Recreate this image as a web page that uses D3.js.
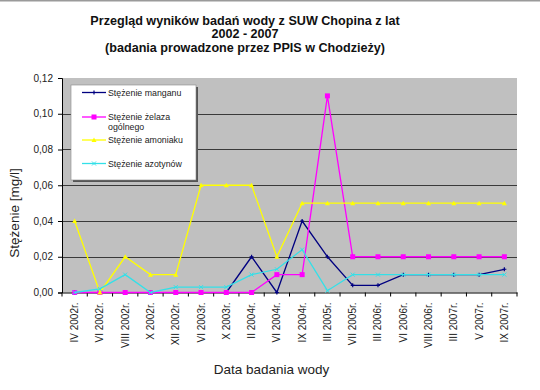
<!DOCTYPE html>
<html><head><meta charset="utf-8">
<script src="https://cdn.jsdelivr.net/npm/d3@7"></script>
<style>
html,body{margin:0;padding:0;background:#fff;}
svg{display:block;font-family:"Liberation Sans",Arial,sans-serif;}
</style></head>
<body>
<div id="chart"></div>
<script>
const categories = ["IV 2002r.","VI 2002r.","VIII 2002r.","X 2002r.","XII 2002r.","VI 2003r.","X 2003r.","II 2004r.","VI 2004r.","IX 2004r.","III 2005r.","VII 2005r.","III 2006r.","VI 2006r.","VIII 2006r.","III 2007r.","V 2007r.","IX 2007r."];
const manganu   = [null,null,null,null,null,null,0,0.02,0,0.04,0.02,0.004,0.004,0.01,0.01,0.01,0.01,0.013];
const zelaza    = [0,0,0,0,0,0,0,0,0.01,0.01,0.11,0.02,0.02,0.02,0.02,0.02,0.02,0.02];
const amoniaku  = [0.04,0,0.02,0.01,0.01,0.06,0.06,0.06,0.02,0.05,0.05,0.05,0.05,0.05,0.05,0.05,0.05,0.05];
const azotynow  = [0,0.002,0.01,0,0.003,0.003,0.003,0.01,0.013,0.024,0.001,0.01,0.01,0.01,0.01,0.01,0.01,0.01];
const yTicks = [0,0.02,0.04,0.06,0.08,0.10,0.12];
const seriesNames = ["Stężenie manganu","Stężenie żelaza ogólnego","Stężenie amoniaku","Stężenie azotynów"];
const titleLines = ["Przegląd wyników badań wody z SUW Chopina z lat","2002 - 2007","(badania prowadzone przez PPIS w Chodzieży)"];

const W=540,H=390;
const m={left:62,right:23,top:78,bottom:97.5};
const svg=d3.select("#chart").append("svg").attr("width",W).attr("height",H);
svg.append("line").attr("x1",0).attr("x2",W).attr("y1",0.5).attr("y2",0.5).attr("stroke","#9a9a9a").attr("stroke-width",2);

const x=d3.scaleBand().domain(categories).range([m.left,W-m.right]);
const y=d3.scaleLinear().domain([0,0.12]).range([H-m.bottom,m.top]);
const px=c=>x(c)+x.bandwidth()/2;

// plot area
svg.append("rect").attr("x",m.left).attr("y",m.top).attr("width",W-m.right-m.left).attr("height",H-m.bottom-m.top).attr("fill","#c0c0c0");
// gridlines
svg.append("g").selectAll("line").data(yTicks.filter(t=>t>0&&t<0.12)).join("line")
 .attr("x1",m.left).attr("x2",W-m.right).attr("y1",d=>Math.round(y(d))+0.5).attr("y2",d=>Math.round(y(d))+0.5)
 .attr("stroke","#3a3a3a").attr("stroke-width",1);

// y axis
const yAxis=d3.axisLeft(y).tickValues(yTicks).tickSize(4).tickFormat(d=>d3.format(".2f")(d).replace(".",","));
const gy=svg.append("g").attr("transform",`translate(${m.left},0)`).call(yAxis);
gy.select(".domain").attr("stroke","#000");
gy.selectAll("text").attr("font-size",10).attr("fill","#222").attr("dx",-2);
// x axis
const xAxis=d3.axisBottom(x).tickSize(0);
const gx=svg.append("g").attr("transform",`translate(0,${H-m.bottom})`).call(xAxis);
gx.select(".domain").attr("stroke","#000");
gx.selectAll(".tick text").attr("font-size",10).attr("fill","#222")
 .attr("transform","rotate(-90)").attr("text-anchor","end").attr("x",-10).attr("y",0).attr("dy","0.35em");
// category boundary ticks
svg.append("g").selectAll("line").data(d3.range(categories.length+1)).join("line")
 .attr("x1",i=>m.left+i*x.step()).attr("x2",i=>m.left+i*x.step())
 .attr("y1",H-m.bottom).attr("y2",H-m.bottom+4).attr("stroke","#000");

// series
const series=[
 {name:seriesNames[0],vals:manganu,color:"#000080",marker:"plus"},
 {name:seriesNames[1],vals:zelaza,color:"#ff00ff",marker:"square"},
 {name:seriesNames[2],vals:amoniaku,color:"#ffff00",marker:"tri"},
 {name:seriesNames[3],vals:azotynow,color:"#33e0e8",marker:"x"}
];
function drawMarker(g,type,cx,cy,color){
 if(type==="square") g.append("rect").attr("x",cx-2.5).attr("y",cy-2.5).attr("width",5).attr("height",5).attr("fill",color);
 else if(type==="tri") g.append("path").attr("d",`M${cx},${cy-2.5}L${cx+2.5},${cy+2}L${cx-2.5},${cy+2}Z`).attr("fill",color);
 else if(type==="plus") g.append("path").attr("d",`M${cx-2},${cy}H${cx+2}M${cx},${cy-2}V${cy+2}`).attr("stroke",color).attr("stroke-width",1.2);
 else if(type==="x") g.append("path").attr("d",`M${cx-2},${cy-2}L${cx+2},${cy+2}M${cx-2},${cy+2}L${cx+2},${cy-2}`).attr("stroke",color).attr("stroke-width",1);
}
const line=d3.line().defined(d=>d.v!==null).x(d=>px(d.c)).y(d=>y(d.v));
series.forEach(s=>{
 const data=categories.map((c,i)=>({c,v:s.vals[i]}));
 const g=svg.append("g");
 g.append("path").datum(data).attr("d",line).attr("fill","none").attr("stroke",s.color).attr("stroke-width",1.3);
 data.filter(d=>d.v!==null).forEach(d=>drawMarker(g,s.marker,px(d.c),y(d.v),s.color));
});

// legend
const lg=svg.append("g");
lg.append("rect").attr("x",73).attr("y",87).attr("width",125).attr("height",95).attr("fill","#555");
lg.append("rect").attr("x",71).attr("y",85).attr("width",125).attr("height",95).attr("fill","#fff").attr("stroke","#888").attr("stroke-width",0.6);
const ly=[92.5,117,140,163.5];
series.forEach((s,i)=>{
 lg.append("line").attr("x1",82).attr("x2",106).attr("y1",ly[i]).attr("y2",ly[i]).attr("stroke",s.color).attr("stroke-width",1.3);
 drawMarker(lg,s.marker,94,ly[i],s.color);
});
const ltext=[[seriesNames[0]],["Stężenie żelaza","ogólnego"],[seriesNames[2]],[seriesNames[3]]];
ltext.forEach((t,i)=>{
 const tx=lg.append("text").attr("x",108).attr("y",ly[i]).attr("font-size",8.8).attr("fill","#222");
 t.forEach((s,j)=>tx.append("tspan").attr("x",108).attr("dy",j===0?"0.35em":"1.15em").text(s));
});

// titles (separate text elements per line)
svg.append("g").selectAll("text").data(titleLines).join("text")
 .attr("x",245).attr("y",(d,i)=>24.5+i*13.5).attr("text-anchor","middle")
 .attr("font-size",12.6).attr("font-weight","bold").attr("fill","#111").text(d=>d);
svg.append("text").attr("x",271.5).attr("y",374).attr("text-anchor","middle").attr("font-size",13.5).attr("fill","#222").text("Data badania wody");
svg.append("text").attr("transform","translate(19,213) rotate(-90)").attr("text-anchor","middle").attr("font-size",13.5).attr("fill","#222").text("Stężenie [mg/l]");
</script>
</body></html>
